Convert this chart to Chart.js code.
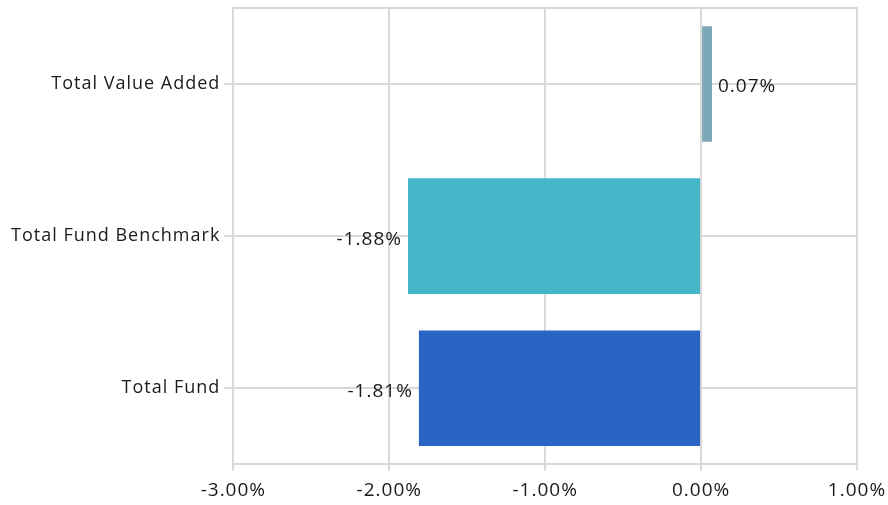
<!DOCTYPE html>
<html>
<head>
<meta charset="utf-8">
<script src="https://cdn.jsdelivr.net/npm/chart.js@4"></script>
<style>
  html, body { margin: 0; padding: 0; background: #fff; }
  #wrap { width: 888px; height: 505px; }
</style>
</head>
<body>
<div id="wrap"><canvas id="returnsChart"></canvas></div>
<script>
const categories = ['Total Value Added', 'Total Fund Benchmark', 'Total Fund'];
const returnValues = [0.07, -1.88, -1.81];
const barColors = ['#7BA7B7', '#45B5C8', '#2A64C5'];

const gridColor = '#d9d9d9';
const textColor = '#1a1a1a';
const fontFamily = '"Open Sans", sans-serif';
const spacing = '1px';

// espaciado de letras para todo el texto del canvas
const letterSpacing = {
    id: 'letterSpacing',
    beforeLayout(chart) { chart.ctx.letterSpacing = spacing; },
    beforeDraw(chart) { chart.ctx.letterSpacing = spacing; }
};

// etiquetas de valor junto al extremo de cada barra
const valueLabels = {
    id: 'valueLabels',
    afterDatasetsDraw(chart) {
        const ctx = chart.ctx;
        const meta = chart.getDatasetMeta(0);
        ctx.save();
        ctx.font = '19px ' + fontFamily;
        ctx.letterSpacing = spacing;
        ctx.fillStyle = textColor;
        ctx.textBaseline = 'middle';
        meta.data.forEach((bar, i) => {
            const v = returnValues[i];
            const txt = v.toFixed(2) + '%';
            if (v >= 0) {
                ctx.textAlign = 'left';
                ctx.fillText(txt, bar.x + 6, bar.y + 3);
            } else {
                ctx.textAlign = 'right';
                ctx.fillText(txt, bar.x - 6, bar.y + 3);
            }
        });
        ctx.restore();
    }
};

// línea superior del área del gráfico
const topBorder = {
    id: 'topBorder',
    beforeDatasetsDraw(chart) {
        const { ctx, chartArea } = chart;
        ctx.save();
        ctx.strokeStyle = gridColor;
        ctx.lineWidth = 2;
        ctx.beginPath();
        ctx.moveTo(chartArea.left, chartArea.top);
        ctx.lineTo(chartArea.right + 1, chartArea.top);
        ctx.stroke();
        ctx.restore();
    }
};

new Chart(document.getElementById('returnsChart'), {
    type: 'bar',
    data: {
        labels: categories,
        datasets: [{
            data: returnValues,
            backgroundColor: barColors,
            borderWidth: 0,
            barPercentage: 0.76,
            categoryPercentage: 1.0
        }]
    },
    options: {
        indexAxis: 'y',
        responsive: true,
        maintainAspectRatio: false,
        animation: false,
        layout: { padding: { top: 8, right: 31, bottom: -6, left: 7 } },
        plugins: {
            legend: { display: false },
            tooltip: { enabled: false }
        },
        scales: {
            x: {
                min: -3,
                max: 1,
                ticks: {
                    stepSize: 1,
                    color: textColor,
                    font: { family: fontFamily, size: 19 },
                    padding: 9,
                    callback: (v) => v.toFixed(2) + '%'
                },
                grid: { color: gridColor, lineWidth: 2, tickLength: 6 },
                border: { color: gridColor, width: 2 },
                afterFit(scale) {
                    scale.paddingRight = 0;
                }
            },
            y: {
                ticks: {
                    color: textColor,
                    font: { family: fontFamily, size: 18 },
                    padding: 4
                },
                grid: { color: gridColor, lineWidth: 2, offset: false, tickLength: 9 },
                border: { color: gridColor, width: 2 },
                afterFit(scale) {
                    scale.paddingTop = 0;
                    scale.paddingBottom = 0;
                }
            }
        }
    },
    plugins: [letterSpacing, valueLabels, topBorder]
});
</script>
</body>
</html>
